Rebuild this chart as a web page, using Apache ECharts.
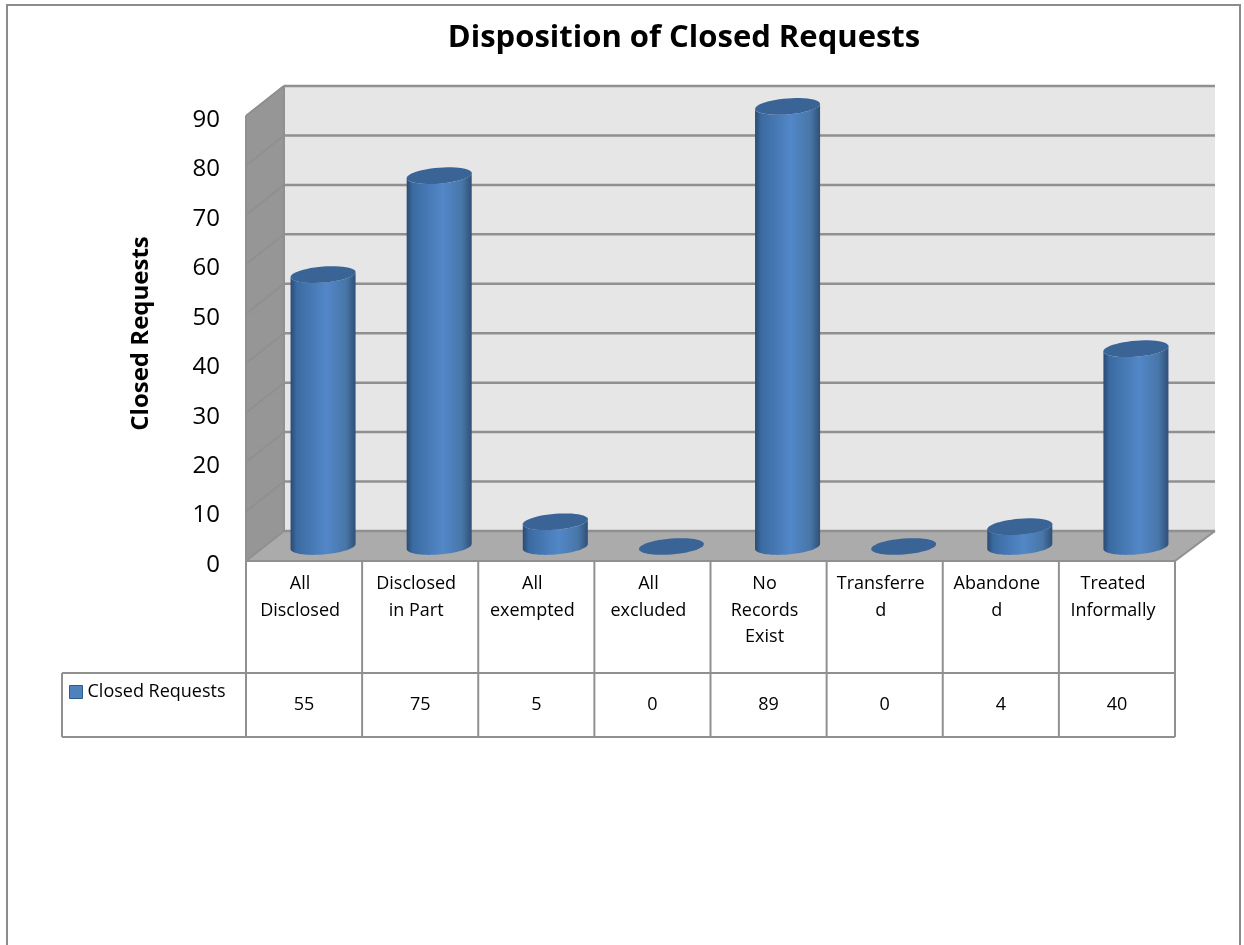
<!DOCTYPE html>
<html>
<head>
<meta charset="utf-8">
<style>
  html, body { margin: 0; padding: 0; background: #fff; }
  #chart { width: 1244px; height: 945px; }
</style>
<script src="https://cdn.jsdelivr.net/npm/echarts@6/dist/echarts.min.js"></script>
</head>
<body>
<div id="chart"></div>
<script>
const categories = ['All\nDisclosed', 'Disclosed\nin Part', 'All\nexempted', 'All\nexcluded', 'No\nRecords\nExist', 'Transferre\nd', 'Abandone\nd', 'Treated\nInformally']
const closedRequests = [55, 75, 5, 0, 89, 0, 4, 40]
const yTicks = [0, 10, 20, 30, 40, 50, 60, 70, 80, 90]
const seriesName = 'Closed Requests'

// 3d look of the plot box, in pixels
const DEPTH_X = 38
const DEPTH_Y = -30
const TABLE_ROW = 673
const TABLE_END = 737
const TABLE_LEFT = 62
const LINE_COLOR = '#909090'

const myEcharts = echarts.init(document.getElementById('chart'), null, { renderer: 'canvas' })

function poly(points, fill) {
  return { type: 'polygon', shape: { points: points }, style: { fill: fill, stroke: null } }
}
function line(x1, y1, x2, y2, color, width) {
  return { type: 'line', shape: { x1, y1, x2, y2 }, style: { stroke: color, lineWidth: width, fill: null } }
}

// walls, floor and gridlines
function renderFrame(params, api) {
  const x0 = params.coordSys.x
  const x1 = x0 + params.coordSys.width
  const y0 = api.coord([0, 0])[1]
  const yTop = api.coord([0, 90])[1]
  const kids = [
    poly([[x0 + DEPTH_X, yTop + DEPTH_Y], [x1 + DEPTH_X + 2, yTop + DEPTH_Y], [x1 + DEPTH_X + 2, y0 + DEPTH_Y], [x0 + DEPTH_X, y0 + DEPTH_Y]], '#e6e6e6'),
    poly([[x0, yTop], [x0 + DEPTH_X, yTop + DEPTH_Y], [x0 + DEPTH_X, y0 + DEPTH_Y], [x0, y0]], '#969696'),
    poly([[x0, y0], [x0 + DEPTH_X, y0 + DEPTH_Y], [x1 + DEPTH_X + 2, y0 + DEPTH_Y], [x1, y0]], '#ababab'),
    line(x0, yTop, x0, y0, LINE_COLOR, 2),
    line(x0, yTop, x0 + DEPTH_X, yTop + DEPTH_Y, LINE_COLOR, 2),
    line(x0 + DEPTH_X, yTop + DEPTH_Y, x0 + DEPTH_X, y0 + DEPTH_Y, LINE_COLOR, 2),
    line(x0, y0, x0 + DEPTH_X, y0 + DEPTH_Y, LINE_COLOR, 2),
    line(x1, y0, x1 + DEPTH_X + 2, y0 + DEPTH_Y, LINE_COLOR, 2)
  ]
  yTicks.forEach(function (t) {
    const y = api.coord([0, t])[1]
    if (t > 0) kids.push(line(x0, y, x0 + DEPTH_X, y + DEPTH_Y, LINE_COLOR, 2))
    kids.push(line(x0 + DEPTH_X, y + DEPTH_Y, x1 + DEPTH_X + 2, y + DEPTH_Y, LINE_COLOR, 2.5))
  })
  return { type: 'group', children: kids }
}

// data table under the plot
function renderTable(params, api) {
  const x0 = params.coordSys.x
  const x1 = x0 + params.coordSys.width
  const y0 = api.coord([0, 0])[1]
  const kids = [
    line(x0, y0, x1, y0, LINE_COLOR, 2),
    line(TABLE_LEFT, TABLE_ROW, x1, TABLE_ROW, LINE_COLOR, 2),
    line(TABLE_LEFT, TABLE_END, x1, TABLE_END, LINE_COLOR, 2),
    line(TABLE_LEFT, TABLE_ROW, TABLE_LEFT, TABLE_END, LINE_COLOR, 2)
  ]
  const band = params.coordSys.width / categories.length
  for (let i = 0; i <= categories.length; i++) {
    kids.push(line(x0 + band * i, y0, x0 + band * i, TABLE_END, LINE_COLOR, 2))
  }
  return { type: 'group', children: kids }
}

function ellipsePoints(cx, cy, rx, ry, from, to) {
  const pts = []
  const steps = 48
  for (let i = 0; i <= steps; i++) {
    const t = from + (to - from) * i / steps
    const c = Math.cos(t)
    pts.push([cx + rx * c, cy + ry * Math.sin(t) - 2.5 * c])
  }
  return pts
}

// one cylinder per value
function renderCylinder(params, api) {
  const top = api.coord([api.value(0), api.value(1)])
  const base = api.coord([api.value(0), 0])
  const rx = api.size([1, 0])[0] * 0.28
  const ry = 8
  const cx = top[0] + DEPTH_X / 2
  const topY = top[1] + DEPTH_Y / 2 + 0.5
  const baseY = base[1] + DEPTH_Y / 2 + 0.5
  const kids = []
  if (api.value(1) > 0) {
    const body = ellipsePoints(cx, topY, rx, ry, Math.PI, 0)
      .concat(ellipsePoints(cx, baseY, rx, ry, 0, Math.PI))
    kids.push({
      type: 'polygon',
      shape: { points: body },
      style: {
        fill: new echarts.graphic.LinearGradient(0, 0, 1, 0, [
          { offset: 0, color: '#2b4a72' },
          { offset: 0.09, color: '#3a6aa0' },
          { offset: 0.55, color: '#5287c8' },
          { offset: 0.85, color: '#4876a8' },
          { offset: 1, color: '#2f5078' }
        ])
      }
    })
  }
  kids.push(poly(ellipsePoints(cx, topY, rx, ry, 0, Math.PI * 2), '#3a6496'))
  return { type: 'group', children: kids }
}

const option = {
  animation: false,
  backgroundColor: '#fff',
  textStyle: { fontFamily: '"Open Sans"' },
  title: {
    text: 'Disposition of Closed Requests',
    left: 679,
    top: 18,
    textAlign: 'center',
    textStyle: { fontFamily: '"Open Sans"', fontSize: 31, fontWeight: 'bold', color: '#000' }
  },
  legend: {
    data: [{ name: seriesName, icon: 'rect', itemStyle: { color: '#4f81bd', borderColor: '#2f5a8c', borderWidth: 1 } }],
    left: 69,
    top: 683,
    padding: 0,
    itemWidth: 13,
    itemHeight: 13,
    itemGap: 0,
    selectedMode: false,
    textStyle: { fontFamily: '"Open Sans"', fontSize: 18, color: '#000' }
  },
  grid: { left: 246, right: 69, top: 116, bottom: 384, containLabel: false },
  xAxis: [
    {
      type: 'category',
      data: categories,
      position: 'bottom',
      axisLine: { show: false },
      axisTick: { show: false },
      axisLabel: { interval: 0, margin: 10, fontSize: 18, lineHeight: 26.5, color: '#000', padding: [0, 8, 0, 0], hideOverlap: false }
    },
    {
      type: 'category',
      data: closedRequests.map(String),
      position: 'bottom',
      offset: 122,
      axisLine: { show: false },
      axisTick: { show: false },
      axisLabel: { interval: 0, margin: 13, fontSize: 18, color: '#000' }
    }
  ],
  yAxis: {
    type: 'value',
    min: 0,
    max: 90,
    interval: 10,
    name: seriesName,
    nameLocation: 'middle',
    nameGap: 93,
    nameTextStyle: { fontFamily: '"Open Sans"', fontSize: 24, fontWeight: 'bold', color: '#000', padding: [0, 0, 0, 10] },
    axisLine: { show: false },
    axisTick: { show: false },
    splitLine: { show: false },
    axisLabel: { margin: 26, fontSize: 24, color: '#000', verticalAlign: 'top', lineHeight: 8 }
  },
  graphic: [{
    type: 'rect',
    silent: true,
    z: -1,
    shape: { x: 7, y: 5, width: 1233, height: 960 },
    style: { fill: null, stroke: '#8c8c8c', lineWidth: 2 }
  }],
  series: [
    { type: 'custom', name: 'frame', clip: false, silent: true, z: 1, renderItem: renderFrame, data: [0], encode: { x: 0 } },
    { type: 'custom', name: 'table', clip: false, silent: true, z: 1, renderItem: renderTable, data: [0], encode: { x: 0 } },
    {
      type: 'custom',
      name: seriesName,
      clip: false,
      z: 3,
      itemStyle: { color: '#4f81bd' },
      renderItem: renderCylinder,
      encode: { x: 0, y: 1 },
      data: closedRequests.map(function (v, i) { return [i, v] })
    }
  ]
}

myEcharts.setOption(option)
window.addEventListener('resize', function () { myEcharts.resize() })
</script>
</body>
</html>
